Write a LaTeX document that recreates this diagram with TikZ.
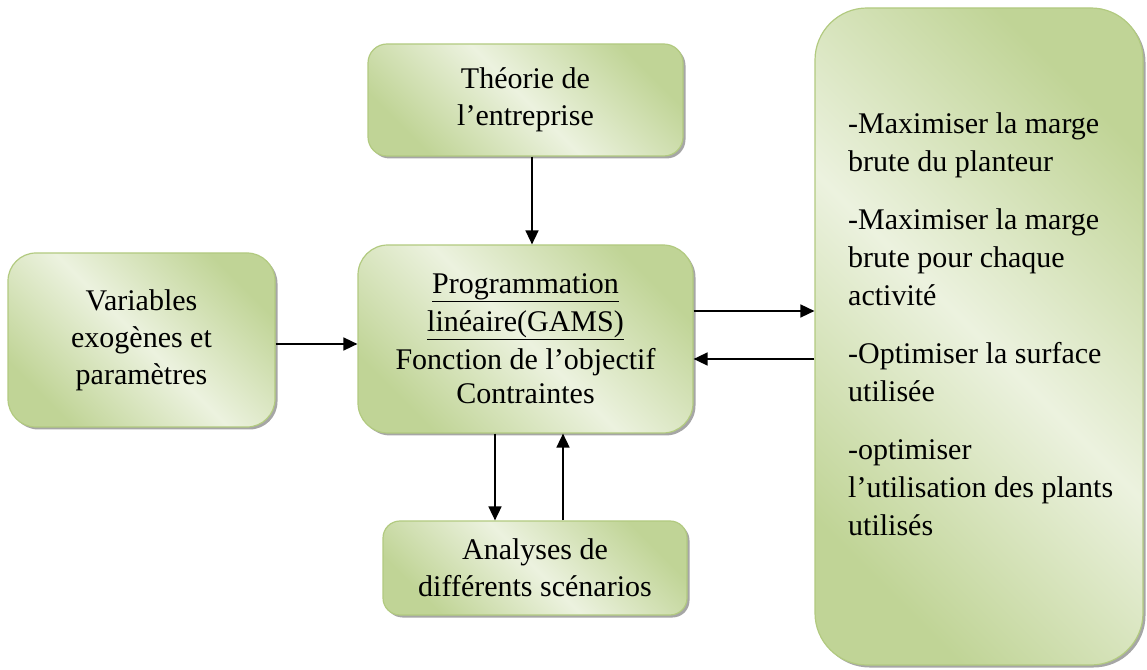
\documentclass[tikz,border=0pt]{standalone}
\usepackage{fontspec}
\setmainfont{Liberation Serif}
\usetikzlibrary{arrows.meta,shadows}
\definecolor{gdark}{RGB}{192,212,150}
\definecolor{glight}{RGB}{236,242,223}
\definecolor{gborder}{RGB}{178,202,128}
\begin{document}
\begin{tikzpicture}[x=1pt,y=1pt,
  gbox/.style={draw=gborder, line width=1.2pt, top color=gdark, bottom color=gdark,
    middle color=glight, shading angle=-45, inner sep=0pt, align=center,
    font=\fontsize{30}{37}\selectfont,
    drop shadow={shadow xshift=2.5pt, shadow yshift=-2.5pt, fill=gray!70, opacity=1}},
  arr/.style={line width=1.6pt, -{Triangle[length=14pt,width=13pt]}}]
\useasboundingbox (0,0) rectangle (1147,669);
\node[gbox, minimum width=315pt, minimum height=112pt, rounded corners=19pt] (theo) at (525.5,569)
  {Théorie de\\l’entreprise};
\node[gbox, minimum width=335pt, minimum height=188pt, rounded corners=30pt] (prog) at (525.5,330)
  {\underline{Programmation}\\[1pt]\underline{linéaire(GAMS)}\\[1pt]Fonction de l’objectif\\[-3pt]Contraintes};
\node[gbox, minimum width=267pt, minimum height=174pt, rounded corners=28pt] (vars) at (141.5,329)
  {\raisebox{8pt}{\begin{tabular}{@{}c@{}}Variables\\exogènes et\\paramètres\end{tabular}}};
\node[gbox, minimum width=304pt, minimum height=94pt, rounded corners=17pt] (anal) at (535,101)
  {Analyses de\\différents scénarios};
\node[gbox, minimum width=328pt, minimum height=657pt, rounded corners=52pt] (goals) at (979,332.5) {};
\node[anchor=north west, inner sep=0pt, align=left, font=\fontsize{30}{38}\selectfont] (goaltext) at (848,557)
  {-Maximiser la marge\\brute du planteur\\[20pt]-Maximiser la marge\\brute pour chaque\\activité\\[20pt]-Optimiser la surface\\utilisée\\[20pt]-optimiser\\l’utilisation des plants\\utilisés};
\draw[arr] ([xshift=6.5pt]theo.south) -- ([xshift=6.5pt]theo.south |- prog.north);
\draw[arr] ([yshift=-4pt]vars.east) -- ([yshift=-4pt]vars.east -| prog.west);
\draw[arr] ([yshift=28pt]prog.east) -- ([yshift=28pt]prog.east -| goals.west);
\draw[arr] ([yshift=-20pt]prog.east -| goals.west) -- ([yshift=-20pt]prog.east);
\draw[arr] ([xshift=-30.5pt]prog.south) -- ([xshift=-30.5pt]prog.south |- anal.north);
\draw[arr] ([xshift=37.5pt]prog.south |- anal.north) -- ([xshift=37.5pt]prog.south);
\end{tikzpicture}
\end{document}
